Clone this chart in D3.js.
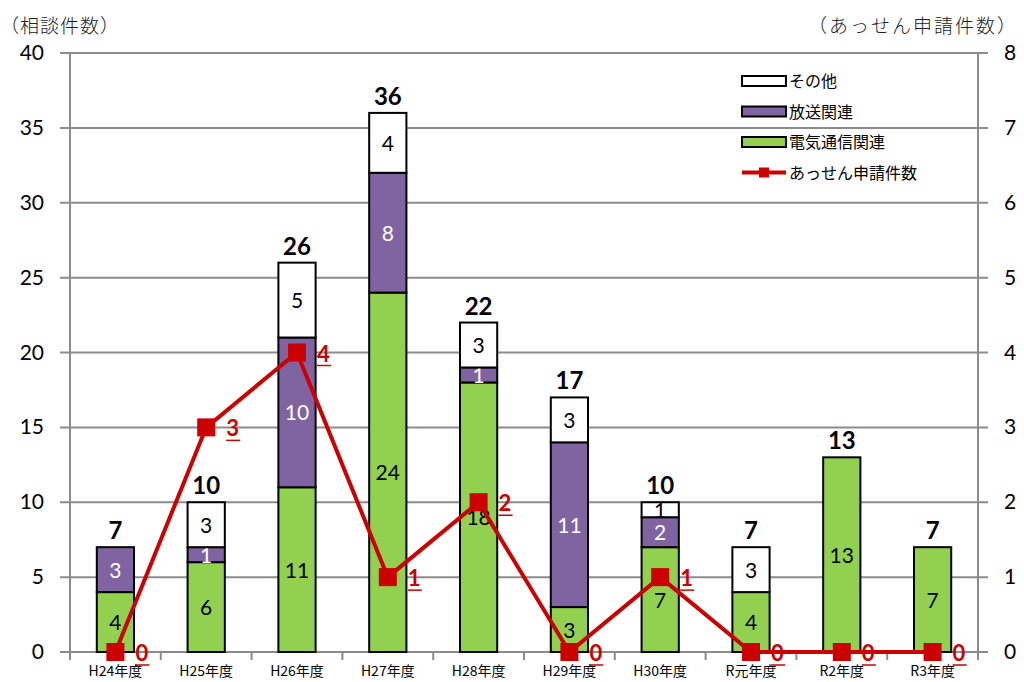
<!DOCTYPE html>
<html>
<head>
<meta charset="utf-8">
<script src="https://cdn.jsdelivr.net/npm/d3@7"></script>
<style>
  body { margin: 0; background: #fff; }
  svg text { font-family: Lato, "Noto Sans CJK JP", sans-serif; }
  .jp { font-family: "Noto Sans CJK JP", sans-serif; }
</style>
</head>
<body>
<svg id="chart" width="1024" height="682"></svg>
<script>
const categories = ['H24年度', 'H25年度', 'H26年度', 'H27年度', 'H28年度', 'H29年度', 'H30年度', 'R元年度', 'R2年度', 'R3年度'];
const telecom = [4, 6, 11, 24, 18, 3, 7, 4, 13, 7];
const broadcast = [3, 1, 10, 8, 1, 11, 2, 0, 0, 0];
const other = [0, 3, 5, 4, 3, 3, 1, 3, 0, 0];
const mediation = [0, 3, 4, 1, 2, 0, 1, 0, 0, 0];
const leftTicks = [0, 5, 10, 15, 20, 25, 30, 35, 40];
const rightTicks = [0, 1, 2, 3, 4, 5, 6, 7, 8];

(function() {
  'use strict';

  const svg = d3.select('#chart'),
        left = 70, right = 978, top = 53, bottom = 652,
        grid = '#8c8c8c';

  const x = d3.scaleBand().domain(categories).range([left, right]).paddingInner(0.59).paddingOuter(0.295),
        y = d3.scaleLinear().domain([0, 40]).range([bottom, top]),
        y2 = d3.scaleLinear().domain([0, 8]).range([bottom, top]);

  const series = [
    { key: 'telecom', name: '電気通信関連', values: telecom, fill: '#92d050', text: '#000' },
    { key: 'broadcast', name: '放送関連', values: broadcast, fill: '#8064a2', text: '#fff' },
    { key: 'other', name: 'その他', values: other, fill: '#ffffff', text: '#000' }
  ];

  // gridlines
  svg.append('g').selectAll('line')
    .data(leftTicks)
    .enter().append('line')
      .attr('x1', left - 10).attr('x2', right + 10)
      .attr('y1', d => y(d)).attr('y2', d => y(d))
      .attr('stroke', grid).attr('stroke-width', 2);

  // axis lines
  svg.append('line').attr('x1', left).attr('x2', left).attr('y1', top).attr('y2', bottom)
    .attr('stroke', grid).attr('stroke-width', 2);
  svg.append('line').attr('x1', right).attr('x2', right).attr('y1', top).attr('y2', bottom)
    .attr('stroke', grid).attr('stroke-width', 2);

  // x category ticks
  const bounds = d3.range(categories.length + 1).map(i => left + i * (right - left) / categories.length);
  svg.append('g').selectAll('line')
    .data(bounds)
    .enter().append('line')
      .attr('x1', d => d).attr('x2', d => d)
      .attr('y1', bottom).attr('y2', bottom + 8)
      .attr('stroke', grid).attr('stroke-width', 2);

  // left tick labels
  svg.append('g').selectAll('text')
    .data(leftTicks)
    .enter().append('text')
      .attr('x', 44).attr('y', d => y(d) + 7)
      .attr('text-anchor', 'end')
      .attr('font-size', 21)
      .text(d => d);

  // right tick labels
  svg.append('g').selectAll('text')
    .data(rightTicks)
    .enter().append('text')
      .attr('x', 1004).attr('y', d => y2(d) + 7)
      .attr('font-size', 21)
      .text(d => d);

  // axis titles
  svg.append('text').attr('class', 'jp').attr('x', 0).attr('y', 33)
    .attr('font-size', 19).attr('font-weight', 300).attr('letter-spacing', 1)
    .attr('fill', '#222').text('（相談件数）');
  svg.append('text').attr('class', 'jp').attr('x', 1018).attr('y', 33)
    .attr('text-anchor', 'end').attr('font-size', 19).attr('font-weight', 300)
    .attr('letter-spacing', 2).attr('fill', '#222').text('（あっせん申請件数）');

  // stacked bars
  const rows = categories.map((c, i) => ({ cat: c, telecom: telecom[i], broadcast: broadcast[i], other: other[i] }));
  const stack = d3.stack().keys(series.map(s => s.key))(rows);

  stack.forEach((layer, si) => {
    const s = series[si];
    const g = svg.append('g');
    layer.forEach((d, i) => {
      if (d[1] - d[0] <= 0) return;
      g.append('rect')
        .attr('x', x(categories[i]))
        .attr('y', y(d[1]))
        .attr('width', x.bandwidth())
        .attr('height', y(d[0]) - y(d[1]))
        .attr('fill', s.fill)
        .attr('stroke', '#000').attr('stroke-width', 2);
      g.append('text')
        .attr('x', x(categories[i]) + x.bandwidth() / 2)
        .attr('y', (y(d[0]) + y(d[1])) / 2 + 8)
        .attr('text-anchor', 'middle')
        .attr('font-size', 21)
        .attr('fill', s.text)
        .text(d[1] - d[0]);
    });
  });

  // totals
  svg.append('g').selectAll('text')
    .data(rows)
    .enter().append('text')
      .attr('x', d => x(d.cat) + x.bandwidth() / 2)
      .attr('y', d => y(d.telecom + d.broadcast + d.other) - 8)
      .attr('text-anchor', 'middle')
      .attr('font-size', 24).attr('font-weight', 'bold')
      .text(d => d.telecom + d.broadcast + d.other);

  // mediation line
  const cx = c => x(c) + x.bandwidth() / 2;
  svg.append('path')
    .datum(mediation)
    .attr('fill', 'none').attr('stroke', '#cc0000').attr('stroke-width', 4)
    .attr('d', d3.line().x((d, i) => cx(categories[i])).y(d => y2(d)));

  svg.append('g').selectAll('rect')
    .data(mediation)
    .enter().append('rect')
      .attr('x', (d, i) => cx(categories[i]) - 9)
      .attr('y', d => y2(d) - 9)
      .attr('width', 18).attr('height', 18)
      .attr('fill', '#cc0000');

  const lbl = svg.append('g').selectAll('g')
    .data(mediation)
    .enter().append('g');
  lbl.append('text')
    .attr('x', (d, i) => cx(categories[i]) + 20)
    .attr('y', d => y2(d) + 9)
    .attr('font-size', 22).attr('font-weight', 'bold')
    .attr('fill', '#cc0000')
    .text(d => d);
  lbl.append('line')
    .attr('x1', (d, i) => cx(categories[i]) + 20)
    .attr('x2', (d, i) => cx(categories[i]) + 34)
    .attr('y1', d => y2(d) + 13).attr('y2', d => y2(d) + 13)
    .attr('stroke', '#cc0000').attr('stroke-width', 1.5);

  // x labels
  svg.append('g').selectAll('text')
    .data(categories)
    .enter().append('text')
      .attr('class', 'jp')
      .attr('x', d => cx(d))
      .attr('y', 676)
      .attr('text-anchor', 'middle')
      .attr('font-size', 14)
      .text(d => d);

  // legend
  const legendItems = [
    { name: 'その他', fill: '#ffffff', type: 'rect' },
    { name: '放送関連', fill: '#8064a2', type: 'rect' },
    { name: '電気通信関連', fill: '#92d050', type: 'rect' },
    { name: 'あっせん申請件数', fill: '#cc0000', type: 'line' }
  ];
  const lg = svg.append('g').selectAll('g')
    .data(legendItems)
    .enter().append('g')
      .attr('transform', (d, i) => `translate(742, ${81 + i * 30.5})`);
  lg.filter(d => d.type === 'rect').append('rect')
    .attr('x', 0).attr('y', -5).attr('width', 44).attr('height', 10)
    .attr('fill', d => d.fill).attr('stroke', '#000').attr('stroke-width', 2);
  lg.filter(d => d.type === 'line').append('line')
    .attr('x1', 0).attr('x2', 44).attr('y1', 0).attr('y2', 0)
    .attr('stroke', '#cc0000').attr('stroke-width', 4);
  lg.filter(d => d.type === 'line').append('rect')
    .attr('x', 17).attr('y', -5).attr('width', 10).attr('height', 10)
    .attr('fill', '#cc0000');
  lg.append('text')
    .attr('class', 'jp')
    .attr('x', 47).attr('y', 6)
    .attr('font-size', 16)
    .text(d => d.name);
})();
</script>
</body>
</html>
